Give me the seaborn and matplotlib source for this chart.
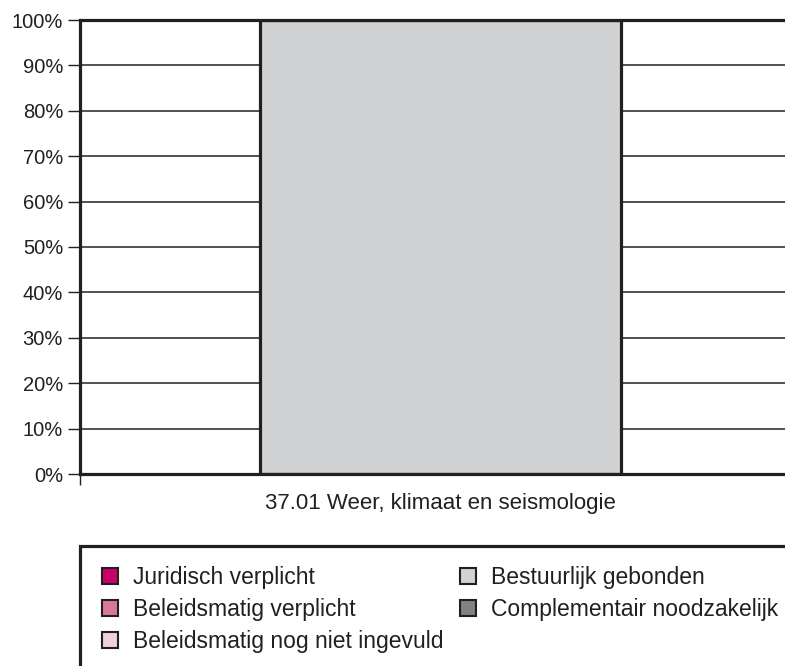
import numpy as np
import pandas as pd
import matplotlib
matplotlib.use("Agg")
import matplotlib.pyplot as plt
import seaborn as sns
from matplotlib.patches import Patch, Rectangle
from matplotlib.ticker import FixedLocator

categories = ["37.01 Weer, klimaat en seismologie"]
series = ["Juridisch verplicht", "Beleidsmatig verplicht", "Beleidsmatig nog niet ingevuld",
          "Bestuurlijk gebonden", "Complementair noodzakelijk"]
juridisch = [0]
beleid_verplicht = [0]
beleid_open = [0]
bestuurlijk = [100]
complementair = [0]
colors = ["#c8006a", "#d9789f", "#f2cfdc", "#d1d2d4", "#808285"]
y_ticks = [0, 10, 20, 30, 40, 50, 60, 70, 80, 90, 100]

sns.set_theme(style="white")
plt.rcParams["font.family"] = ["Liberation Sans", "DejaVu Sans"]
dark = "#231f20"

fig = plt.figure(figsize=(7.85, 6.66), dpi=100)
ax = fig.add_axes([80 / 785, 192 / 666, 721 / 785, 454 / 666])

# grid lines behind the bars
for t in y_ticks[1:-1]:
    ax.axhline(t, color=dark, lw=1.1, zorder=0)

df = pd.DataFrame({"Categorie": categories})
bottom = np.zeros(len(categories))
for name, vals, col in zip(series, [juridisch, beleid_verplicht, beleid_open, bestuurlijk, complementair], colors):
    df["v"] = vals
    if sum(vals) > 0:
        sns.barplot(data=df, x="Categorie", y="v", color=col, width=0.5, bottom=bottom,
                    edgecolor=dark, linewidth=2.3, saturation=1, ax=ax, zorder=2)
    bottom = bottom + np.array(vals)

ax.set_xlim(-0.5, 0.5)
ax.set_ylim(0, 100)
ax.set_yticks(y_ticks)
ax.set_yticklabels([f"{t}%" for t in y_ticks], fontsize=14.5, color=dark)
ax.tick_params(axis="y", length=8.6, width=1, color=dark, pad=3.6, left=True)
ax.set_xticks([0])
ax.set_xticklabels(categories, fontsize=16, color=dark)
ax.tick_params(axis="x", which="major", length=0, pad=13.5)
ax.xaxis.set_minor_locator(FixedLocator([-0.5]))
ax.tick_params(axis="x", which="minor", length=8, width=1, color=dark, bottom=True)
ax.set_xlabel("")
ax.set_ylabel("")
for s in ["left", "bottom", "top", "right"]:
    ax.spines[s].set_color(dark)
    ax.spines[s].set_linewidth(2.3)
    ax.spines[s].set_zorder(3)

# legend box, cut off at the right and bottom like the original
fig.add_artist(Rectangle((80 / 785, -0.2), 1.0, (666 - 546) / 666 + 0.2, transform=fig.transFigure,
                         fill=False, edgecolor=dark, lw=2.3, clip_on=False))
handles = [Patch(facecolor=c, edgecolor=dark, linewidth=1.5, label=n) for n, c in zip(series, colors)]
fig.legend(handles=handles, loc="upper left", bbox_to_anchor=(102 / 785, (666 - 566) / 666),
           ncol=2, frameon=False, fontsize=16.5, handlelength=0.7, handleheight=0.7,
           handletextpad=0.65, labelspacing=0.39, columnspacing=0.72, borderpad=0, borderaxespad=0,
           labelcolor=dark)

fig.savefig("out.png", dpi=100)
